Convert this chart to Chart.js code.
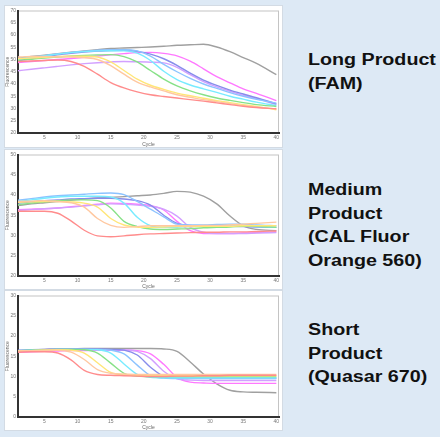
<!DOCTYPE html>
<html>
<head>
<meta charset="utf-8">
<script src="https://cdn.jsdelivr.net/npm/chart.js@4.4.1/dist/chart.umd.min.js"></script>
<style>
html, body { margin: 0; padding: 0; }
body {
    width: 440px; height: 437px; position: relative; overflow: hidden;
    background: #dde9f5;
    font-family: "Liberation Sans", Arial, sans-serif;
}
.panel { position: absolute; left: 5px; width: 277px; background: #fff; box-shadow: 0 0 0 1px #d3dbe4; }
.panel canvas { display: block; filter: blur(0.3px); }
.label {
    position: absolute; left: 308px;
    font-weight: bold; font-size: 16px; line-height: 23.5px; color: #111;
    transform: scaleX(1.23); transform-origin: 0 0; white-space: nowrap;
}
</style>
</head>
<body>

<div class="panel" style="top:6px;height:141px"><canvas id="longChart" width="277" height="141"></canvas></div>
<div class="panel" style="top:150px;height:139px"><canvas id="mediumChart" width="277" height="139"></canvas></div>
<div class="panel" style="top:291px;height:139px"><canvas id="shortChart" width="277" height="139"></canvas></div>

<div class="label" style="top:48px">Long Product<br>(FAM)</div>
<div class="label" style="top:178px">Medium<br>Product<br>(CAL Fluor<br>Orange 560)</div>
<div class="label" style="top:318px">Short<br>Product<br>(Quasar 670)</div>

<script>
var cycles = [1, 3, 5, 7, 9, 11, 13, 15, 17, 19, 21, 23, 25, 27, 29, 31, 33, 35, 37, 40];
var xTicks = [5, 10, 15, 20, 25, 30, 35, 40];

var seriesNames = ['red', 'orange', 'yellow', 'green', 'cyan', 'lightblue', 'blue', 'violet', 'magenta', 'gray'];
var seriesColors = [
    'rgb(255, 140, 140)',
    'rgb(255, 200, 160)',
    'rgb(255, 230, 120)',
    'rgb(135, 225, 135)',
    'rgb(120, 235, 255)',
    'rgb(140, 195, 255)',
    'rgb(135, 140, 235)',
    'rgb(210, 160, 255)',
    'rgb(255, 120, 255)',
    'rgb(160, 160, 160)'
];

// Long Product (FAM)
var longProduct = [
    [49.2, 49.4, 49.6, 49.8, 49.2, 47.2, 44.0, 40.6, 38.4, 36.8, 35.6, 34.9, 34.3, 33.6, 33.0, 32.3, 31.6, 30.9, 30.4, 29.9],
    [51.0, 51.2, 51.2, 51.1, 51.0, 50.7, 50.0, 47.5, 44.0, 40.8, 38.8, 37.2, 35.6, 34.6, 33.6, 32.8, 32.0, 31.2, 30.6, 29.8],
    [50.3, 50.6, 50.9, 51.2, 51.3, 51.3, 51.0, 49.0, 45.5, 42.0, 39.5, 37.8, 36.3, 35.2, 34.2, 33.2, 32.4, 31.6, 30.8, 29.5],
    [49.7, 50.1, 50.6, 51.0, 51.4, 51.7, 51.9, 52.0, 51.2, 49.0, 45.5, 42.0, 39.2, 37.2, 35.6, 34.3, 33.3, 32.4, 31.6, 30.8],
    [50.1, 50.8, 51.5, 52.2, 52.8, 53.2, 53.5, 53.6, 53.5, 52.6, 49.6, 45.2, 41.8, 39.6, 38.0, 36.6, 35.0, 33.8, 32.6, 31.2],
    [50.3, 50.9, 51.6, 52.3, 52.9, 53.4, 53.8, 54.0, 54.0, 53.5, 51.4, 48.0, 45.0, 42.3, 40.0, 38.2, 36.5, 35.0, 33.7, 32.2],
    [49.5, 50.3, 51.1, 51.9, 52.5, 53.0, 53.4, 53.7, 53.8, 53.3, 52.2, 50.3, 47.6, 44.4, 41.6, 39.4, 37.5, 35.9, 34.4, 31.9],
    [45.4, 46.0, 46.6, 47.2, 47.8, 48.3, 48.7, 49.0, 49.2, 49.1, 48.9, 48.6, 46.8, 43.8, 41.0, 38.8, 37.0, 35.4, 34.0, 31.6],
    [48.8, 49.2, 49.6, 50.0, 50.4, 50.9, 51.4, 51.9, 52.4, 52.8, 52.9, 52.5, 51.5, 49.3, 46.2, 43.0, 40.5, 38.0, 36.2, 33.2],
    [50.5, 51.2, 51.8, 52.4, 53.0, 53.5, 54.0, 54.5, 54.7, 54.9, 55.1, 55.4, 55.8, 56.0, 56.2, 55.1, 53.2, 50.8, 48.4, 43.8]
];

// Medium Product (CAL Fluor Orange 560)
var mediumProduct = [
    [36.0, 36.0, 36.0, 35.5, 33.6, 31.3, 29.9, 29.7, 29.9, 30.2, 30.4, 30.5, 30.6, 30.7, 30.8, 30.8, 30.9, 30.9, 31.0, 31.1],
    [38.4, 38.5, 38.6, 38.4, 38.1, 37.0, 34.2, 32.5, 32.0, 32.2, 32.4, 32.4, 32.4, 32.4, 32.5, 32.5, 32.6, 32.8, 33.0, 33.3],
    [38.2, 38.3, 38.4, 38.4, 38.3, 38.0, 37.0, 34.2, 32.6, 32.1, 32.0, 32.1, 32.2, 32.2, 32.3, 32.3, 32.3, 32.4, 32.4, 32.4],
    [37.6, 38.0, 38.3, 38.6, 38.8, 38.8, 38.6, 36.8, 33.5, 32.2, 31.6, 31.5, 31.6, 31.7, 31.9, 32.0, 32.1, 32.3, 32.3, 32.0],
    [38.4, 38.8, 39.2, 39.5, 39.7, 39.7, 39.7, 39.5, 38.0, 34.5, 32.4, 32.0, 32.0, 32.2, 32.4, 32.4, 32.4, 32.3, 32.2, 32.0],
    [38.7, 39.1, 39.5, 39.8, 40.0, 40.2, 40.4, 40.5, 40.1, 38.4, 36.5, 34.6, 32.8, 32.6, 32.6, 32.7, 32.8, 32.8, 32.6, 32.4],
    [38.0, 38.3, 38.6, 38.8, 39.0, 39.1, 39.2, 39.2, 39.0, 38.6, 37.5, 35.0, 33.0, 32.5, 32.4, 32.4, 32.3, 32.2, 32.1, 32.0],
    [36.2, 36.4, 36.6, 36.8, 37.0, 37.3, 37.6, 37.8, 37.7, 37.5, 37.2, 36.5, 34.8, 32.0, 30.8, 30.5, 30.5, 30.5, 30.6, 30.7],
    [36.4, 36.5, 36.6, 36.8, 37.1, 37.4, 37.7, 38.0, 37.9, 37.7, 37.4, 36.3, 33.5, 31.2, 30.5, 30.5, 30.5, 30.6, 30.7, 30.9],
    [37.4, 37.8, 38.1, 38.4, 38.7, 39.0, 39.3, 39.4, 39.6, 39.8, 40.0, 40.4, 40.9, 40.7, 39.7, 37.8, 34.8, 32.4, 31.5, 31.2]
];

// Short Product (Quasar 670)
var shortProduct = [
    [16.0, 16.1, 16.1, 15.8, 14.1, 11.5, 10.5, 10.3, 10.2, 10.1, 10.0, 10.0, 10.1, 10.1, 10.2, 10.2, 10.3, 10.3, 10.3, 10.3],
    [16.3, 16.4, 16.5, 16.5, 16.0, 14.2, 11.7, 10.8, 10.6, 10.5, 10.5, 10.5, 10.5, 10.5, 10.5, 10.5, 10.5, 10.5, 10.5, 10.5],
    [16.3, 16.4, 16.5, 16.6, 16.5, 15.8, 13.4, 11.0, 10.4, 10.3, 10.3, 10.2, 10.2, 10.2, 10.2, 10.2, 10.2, 10.2, 10.2, 10.2],
    [16.4, 16.5, 16.6, 16.7, 16.7, 16.6, 15.8, 13.3, 10.8, 10.1, 10.0, 10.0, 10.0, 10.0, 10.0, 10.0, 10.0, 10.0, 10.0, 10.0],
    [16.4, 16.5, 16.6, 16.7, 16.7, 16.7, 16.6, 15.8, 13.1, 10.5, 9.8, 9.7, 9.7, 9.7, 9.7, 9.7, 9.7, 9.7, 9.7, 9.7],
    [16.3, 16.5, 16.6, 16.7, 16.7, 16.7, 16.7, 16.5, 15.6, 12.8, 10.2, 9.6, 9.5, 9.5, 9.5, 9.5, 9.5, 9.5, 9.5, 9.5],
    [16.5, 16.6, 16.7, 16.8, 16.8, 16.8, 16.8, 16.7, 16.5, 15.3, 12.3, 10.1, 9.7, 9.6, 9.6, 9.6, 9.6, 9.6, 9.6, 9.6],
    [16.2, 16.3, 16.4, 16.5, 16.6, 16.6, 16.6, 16.6, 16.6, 16.2, 14.4, 11.3, 9.4, 9.1, 9.0, 9.0, 9.0, 9.0, 9.0, 9.0],
    [16.0, 16.1, 16.2, 16.3, 16.4, 16.4, 16.5, 16.5, 16.5, 16.4, 15.6, 13.0, 9.8, 8.6, 8.4, 8.3, 8.3, 8.3, 8.3, 8.3],
    [16.2, 16.5, 16.7, 16.8, 16.8, 16.9, 16.9, 16.9, 16.9, 16.9, 16.9, 16.8, 16.2, 13.6, 10.6, 8.2, 6.6, 6.2, 6.1, 6.0]
];

// light grey frame round the plot, dark axes are drawn by the scales on top
var plotFrame = {
    id: 'plotFrame',
    beforeDraw: function (chart) {
        var a = chart.chartArea, ctx = chart.ctx;
        ctx.save();
        ctx.strokeStyle = '#c4c4c4';
        ctx.lineWidth = 1;
        ctx.strokeRect(a.left + 0.5, a.top + 0.5, a.right - a.left - 1, a.bottom - a.top - 1);
        ctx.restore();
    }
};

var tickFont = { family: 'Liberation Sans', size: 5, lineHeight: 1 };

function makeConfig(rows, yMin, yMax, padTop, xHeight) {
    return {
        type: 'line',
        data: {
            datasets: rows.map(function (row, i) {
                return {
                    label: seriesNames[i],
                    data: row.map(function (v, j) { return { x: cycles[j], y: v }; }),
                    borderColor: seriesColors[i],
                    borderWidth: 1.4,
                    pointRadius: 0,
                    fill: false,
                    cubicInterpolationMode: 'monotone'
                };
            })
        },
        options: {
            responsive: false,
            animation: false,
            layout: { padding: { top: padTop, right: 3, left: 0, bottom: 0 } },
            plugins: { legend: { display: false }, tooltip: { enabled: false } },
            scales: {
                x: {
                    type: 'linear',
                    min: 1,
                    max: 40.4,
                    grid: { display: false, drawTicks: false },
                    border: { color: '#333', width: 2 },
                    afterBuildTicks: function (s) { s.ticks = xTicks.map(function (v) { return { value: v }; }); },
                    afterFit: function (s) { s.height = xHeight; },
                    ticks: { font: tickFont, color: '#777', padding: 2, maxRotation: 0 },
                    title: { display: true, text: 'Cycle', font: tickFont, color: '#666', padding: 0 }
                },
                y: {
                    min: yMin,
                    max: yMax,
                    grid: { display: false, drawTicks: false },
                    border: { color: '#333', width: 2 },
                    afterFit: function (s) { s.width = 13; },
                    ticks: { stepSize: 5, font: tickFont, color: '#777', padding: 2 },
                    title: { display: true, text: 'Fluorescence', font: tickFont, color: '#666', padding: 0 }
                }
            }
        },
        plugins: [plotFrame]
    };
}

var longChart = new Chart(document.getElementById('longChart'), makeConfig(longProduct, 20, 70, 3, 14));
var mediumChart = new Chart(document.getElementById('mediumChart'), makeConfig(mediumProduct, 20, 50, 2, 13));
var shortChart = new Chart(document.getElementById('shortChart'), makeConfig(shortProduct, 0, 30, 3, 13));
</script>
</body>
</html>
